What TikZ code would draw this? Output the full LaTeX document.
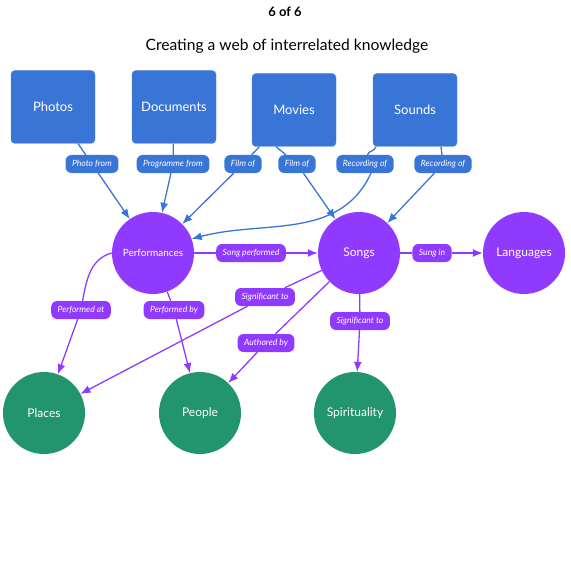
\documentclass[tikz,border=0pt]{standalone}
\usepackage{fontspec}
\setmainfont{Lato}
\usetikzlibrary{arrows.meta}

\definecolor{boxblue}{RGB}{57,117,214}
\definecolor{topicpurple}{RGB}{145,58,255}
\definecolor{subjectgreen}{RGB}{34,148,110}

\begin{document}
\begin{tikzpicture}[x=1pt, y=1pt,
    source/.style={fill=boxblue, draw=boxblue!85!white, rounded corners=4pt,
        minimum width=84pt, minimum height=73pt, text=white,
        font=\fontsize{13}{15}\selectfont},
    topic/.style={circle, fill=topicpurple, minimum size=82pt, inner sep=0pt,
        text=white, font=\fontsize{12}{14}\selectfont},
    subject/.style={circle, fill=subjectgreen, minimum size=82pt, inner sep=0pt,
        text=white, font=\fontsize{12}{14}\selectfont},
    bluelab/.style={fill=boxblue, rounded corners=6pt, text=white,
        font=\fontsize{8.6}{10}\selectfont\itshape, inner xsep=6.5pt,
        minimum height=18pt},
    purplelab/.style={bluelab, fill=topicpurple},
    bluearr/.style={draw=boxblue, line width=1.3pt, -{Latex[length=10pt,width=8pt]}},
    purplearr/.style={bluearr, draw=topicpurple}]

    \useasboundingbox (0,0) rectangle (570,-580);

    % headings
    \node[font=\fontsize{13}{15}\selectfont\bfseries] (count) at (285,-12) {6 of 6};
    \node[font=\fontsize{15.6}{18}\selectfont] (title) at (287,-46) {Creating a web of interrelated knowledge};

    % sources
    \node[source] (photos) at (53,-107) {Photos};
    \node[source] (documents) at (174,-107) {Documents};
    \node[source] (movies) at (294,-110) {Movies};
    \node[source] (sounds) at (415,-110) {Sounds};

    % topics and subjects
    \node[topic, font=\fontsize{10}{12}\selectfont] (performances) at (153,-253) {Performances};
    \node[topic] (songs) at (359,-253) {Songs};
    \node[topic] (languages) at (524,-253) {Languages};
    \node[subject] (places) at (44,-413) {Places};
    \node[subject] (people) at (200,-413) {People};
    \node[subject] (spirituality) at (355,-413) {Spirituality};

    % link labels
    \node[bluelab] (photofrom) at (92,-164) {Photo from};
    \node[bluelab] (programmefrom) at (173,-164) {Programme from};
    \node[bluelab] (filmperf) at (243,-164) {Film of};
    \node[bluelab] (filmsong) at (297,-164) {Film of};
    \node[bluelab] (recperf) at (365,-164) {Recording of};
    \node[bluelab] (recsong) at (443,-164) {Recording of};
    \node[purplelab] (songperformed) at (251,-253) {Song performed};
    \node[purplelab] (sungin) at (432,-253) {Sung in};
    \node[purplelab] (performedat) at (81,-310) {Performed at};
    \node[purplelab] (performedby) at (174,-310) {Performed by};
    \node[purplelab] (signifplaces) at (265,-297) {Significant to};
    \node[purplelab] (authoredby) at (266,-343) {Authored by};
    \node[purplelab] (signifspirit) at (360,-321) {Significant to};

    % links from sources
    \draw[bluearr] (photos) -- (photofrom) -- (performances);
    \draw[bluearr] (documents) -- (programmefrom) -- (performances);
    \draw[bluearr] (movies) -- (filmperf) -- (performances);
    \draw[bluearr] ([xshift=-18pt]movies.south) -- (filmsong) -- (songs);
    \draw[boxblue, line width=1.3pt] ([xshift=3pt]sounds.south west) to[out=-95,in=75] (recperf);
    \draw[bluearr] ([xshift=6pt]recperf.south) to[out=-115,in=15] (performances.20);
    \draw[bluearr] ([xshift=26pt]sounds.south) -- (recsong) -- (songs);

    % links between topics
    \draw[purplearr] (performances) -- (songperformed) -- (songs);
    \draw[purplearr] (songs) -- (sungin) -- (languages);
    \draw[purplearr] (performances.west) to[out=195,in=80] (performedat) -- (places);
    \draw[purplearr] (performances) -- (performedby) -- (people);
    \draw[purplearr] (songs) -- (signifplaces) -- (places);
    \draw[purplearr] (songs) -- (authoredby) -- (people);
    \draw[purplearr] (songs) -- (signifspirit) -- (spirituality);
\end{tikzpicture}
\end{document}
